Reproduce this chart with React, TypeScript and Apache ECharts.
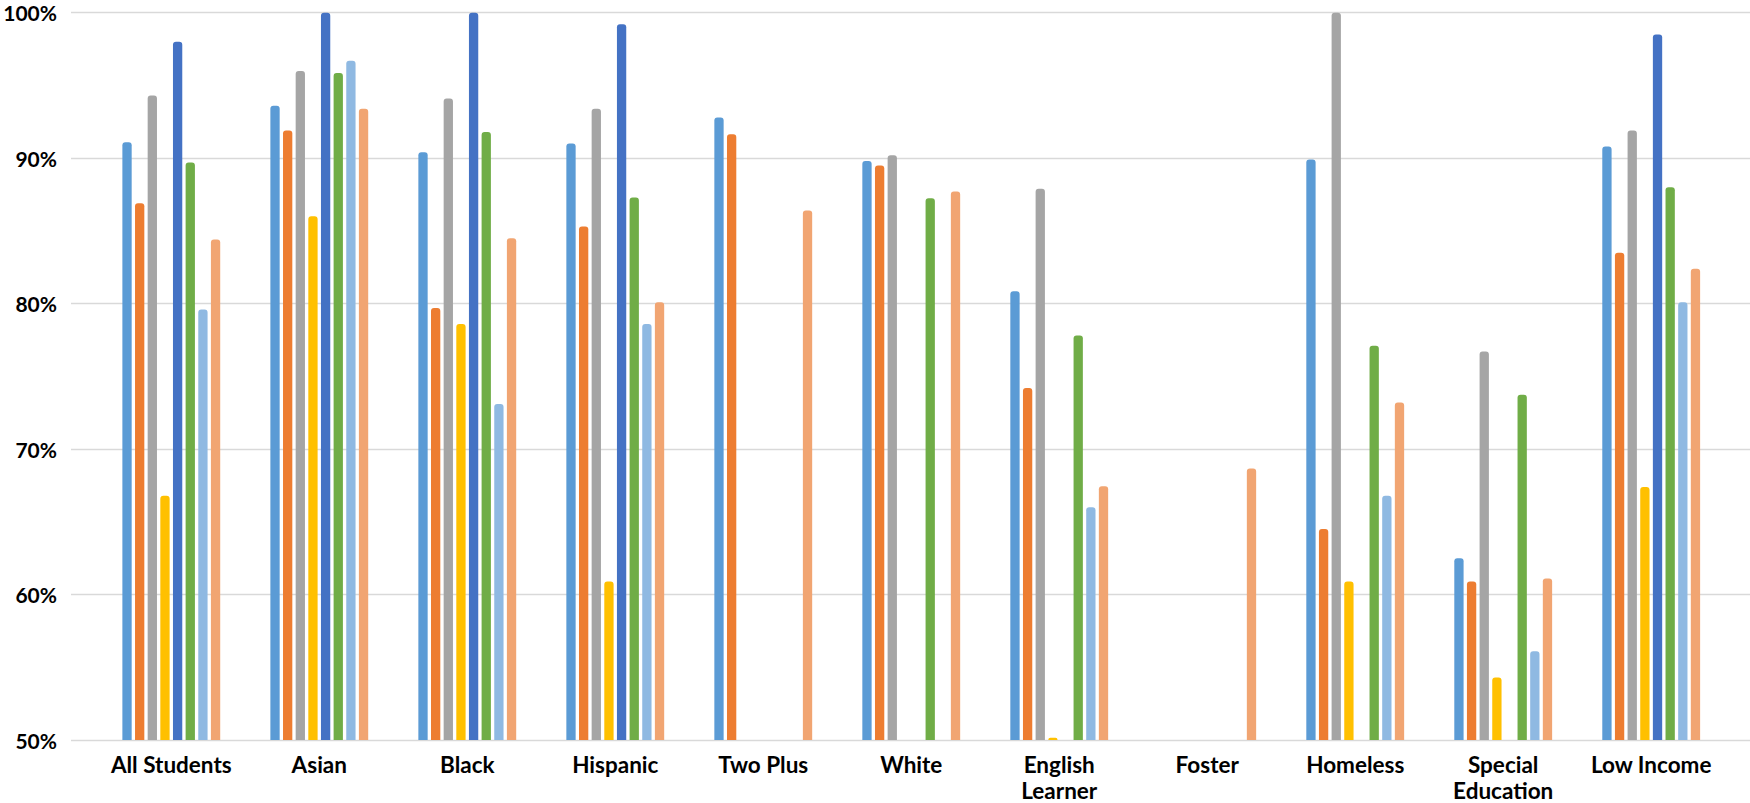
import React, { useEffect, useRef } from "react";
import * as echarts from "echarts";

const categories = [
  "All Students",
  "Asian",
  "Black",
  "Hispanic",
  "Two Plus",
  "White",
  "English\nLearner",
  "Foster",
  "Homeless",
  "Special\nEducation",
  "Low Income",
];

// eight unnamed series, one per bar position within a group (null = no bar)
const s1 = [91.1, 93.6, 90.4, 91.0, 92.8, 89.8, 80.85, null, 89.9, 62.5, 90.8];
const s2 = [86.9, 91.9, 79.7, 85.3, 91.65, 89.5, 74.2, null, 64.5, 60.9, 83.5];
const s3 = [94.3, 96.0, 94.1, 93.4, null, 90.2, 87.9, null, 100, 76.7, 91.9];
const s4 = [66.8, 86.0, 78.6, 60.9, null, null, 50.15, null, 60.9, 54.3, 67.4];
const s5 = [98.0, 100, 100, 99.2, null, null, null, null, null, null, 98.5];
const s6 = [89.7, 95.85, 91.8, 87.3, null, 87.25, 77.8, null, 77.1, 73.74, 88.0];
const s7 = [79.6, 96.7, 73.1, 78.6, null, null, 66.0, null, 66.8, 56.1, 80.1];
const s8 = [84.4, 93.4, 84.5, 80.1, 86.4, 87.7, 67.45, 68.67, 73.2, 61.1, 82.4];

const seriesValues = [s1, s2, s3, s4, s5, s6, s7, s8];
const seriesColors = [
  "#5B9BD5",
  "#ED7D31",
  "#A5A5A5",
  "#FFC000",
  "#4472C4",
  "#70AD47",
  "#8FB9E2",
  "#F1A572",
];

const yMin = 50;
const yMax = 100;
const yStep = 10;

export default function App() {
  const ref = useRef<HTMLDivElement>(null);

  useEffect(() => {
    if (!ref.current) return;
    const chart = echarts.init(ref.current, undefined, { renderer: "svg" });
    const option: any = {
      animation: false,
      backgroundColor: "#ffffff",
      grid: [
        { left: 97.3, right: 24.8, top: 12.7, bottom: 63, containLabel: false, outerBoundsMode: "none" },
        { left: 71, right: 0, top: 12.7, bottom: 63, containLabel: false, outerBoundsMode: "none" },
      ],
      xAxis: [
        {
          type: "category",
          gridIndex: 0,
          data: categories,
          axisLine: { show: false },
          axisTick: { show: false },
          splitLine: { show: false },
          axisLabel: {
            interval: 0,
            margin: 11,
            fontFamily: "Lato",
            fontWeight: "bold",
            fontSize: 22.5,
            lineHeight: 26,
            color: "#000000",
          },
        },
        {
          type: "value",
          gridIndex: 1,
          show: false,
          min: 0,
          max: 1,
        },
      ],
      yAxis: [
        {
          type: "value",
          gridIndex: 0,
          min: yMin,
          max: yMax,
          interval: yStep,
          show: false,
          splitLine: { show: false },
        },
        {
          type: "value",
          gridIndex: 1,
          min: yMin,
          max: yMax,
          interval: yStep,
          axisLine: { show: false },
          axisTick: { show: false },
          splitLine: { show: true, lineStyle: { color: "#D9D9D9", width: 1.3 } },
          axisLabel: {
            margin: 14,
            formatter: "{value}%",
            fontFamily: "Lato",
            fontWeight: "bold",
            fontSize: 21,
            color: "#000000",
          },
        },
      ],
      series: seriesValues.map((vals, i) => ({
        type: "bar",
        xAxisIndex: 0,
        yAxisIndex: 0,
        data: vals,
        barWidth: 9.3,
        barGap: "36%",
        itemStyle: { color: seriesColors[i], borderRadius: [3, 3, 0, 0] },
      })),
    };
    chart.setOption(option);
    return () => chart.dispose();
  }, []);

  return (
    <div
      ref={ref}
      style={{ position: "fixed", left: 0, top: 0, width: 1750, height: 803 }}
    />
  );
}
